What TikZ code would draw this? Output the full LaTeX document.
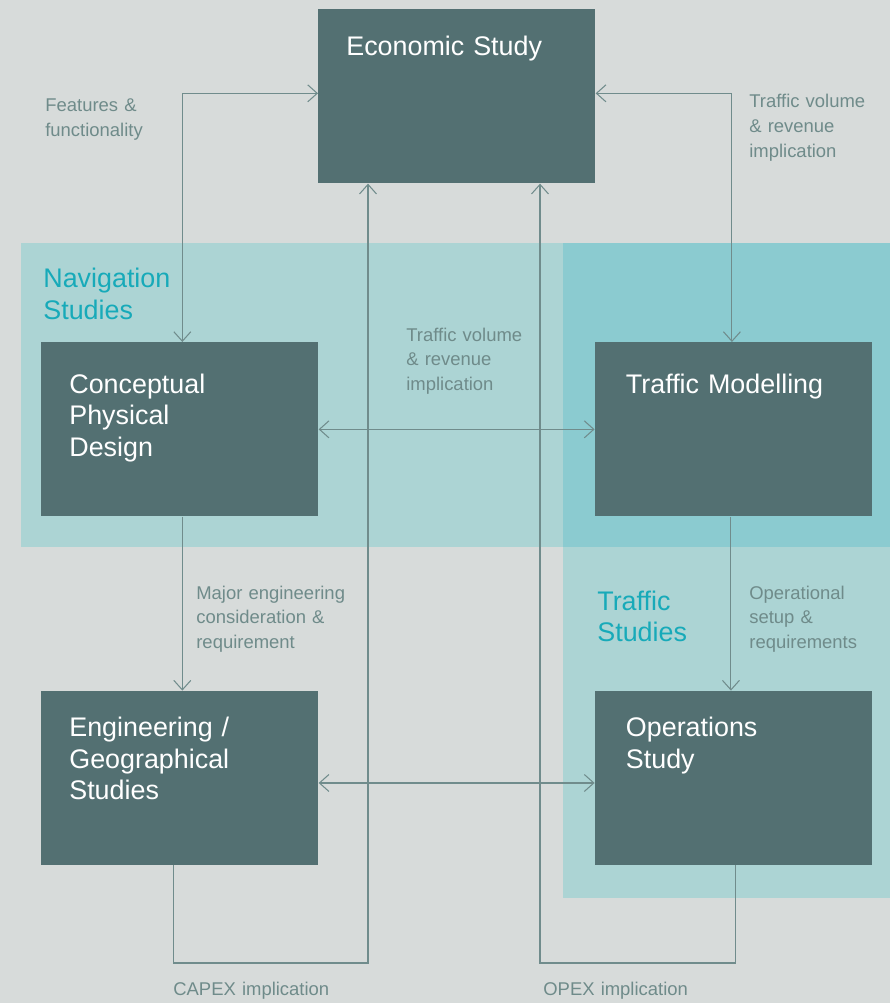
\documentclass[tikz,border=0pt]{standalone}
\usepackage{fontspec}
\setmainfont{Liberation Sans}
\usetikzlibrary{positioning,arrows.meta}

\definecolor{bggray}{HTML}{D7DBDA}
\definecolor{navteal}{HTML}{ACD4D4}
\definecolor{overteal}{HTML}{8BCBD0}
\definecolor{boxgray}{HTML}{537072}
\definecolor{notegray}{HTML}{6F8B8A}
\definecolor{headteal}{HTML}{17AAB9}
\definecolor{linegray}{HTML}{708C8C}

\begin{document}
\begin{tikzpicture}[x=0.02cm, y=-0.02cm,
>={Straight Barb[length=1.9mm,width=3.4mm]},
studybox/.style={fill=boxgray, text=white, anchor=north west, inner ysep=0pt, inner xsep=5.6mm, text width=44.2mm, align=left, text height=9.2mm, text depth=25.6mm, font=\fontsize{15.3}{17.9}\selectfont},
upper/.style={text height=10.2mm, text depth=24.6mm},
rightcol/.style={inner xsep=6.2mm, text width=43mm},
regionhead/.style={text=headteal, anchor=base west, inner sep=0pt, text width=40mm, align=left, font=\fontsize{15.3}{17.9}\selectfont},
note/.style={text=notegray, anchor=base west, inner sep=0pt, text width=36mm, align=left, font=\fontsize{10.5}{14.2}\selectfont},
link/.style={draw=linegray, line width=0.6pt}
]
\useasboundingbox (0,0) rectangle (890,1003);
%Background and study areas
\fill[bggray] (0,0) rectangle (890,1003);
\fill[navteal] (21,243) rectangle (890,547);
\fill[navteal] (563,243) rectangle (890,898);
\fill[overteal] (563,243) rectangle (890,547);
\node[regionhead] (navhead)  at (43,288)  {Navigation\\Studies};
\node[regionhead] (trafhead) at (597,610) {Traffic\\Studies};
%Nodes
\node[studybox]                 (econ)                          at (318,9)  {Economic Study};
\node[studybox, upper]          (cpd)                           at (41,342) {Conceptual\\Physical\\Design};
\node[studybox, upper, rightcol] (tm)  [right=5.52cm of cpd]               {Traffic Modelling};
\node[studybox]                 (eng)  [below=3.48cm of cpd]                {Engineering /\\Geographical\\Studies};
\node[studybox, rightcol]       (ops)  [right=5.52cm of eng]                {Operations\\Study};
%Labels
\node[note] (featnote)   at (45,112)  {Features \&\\functionality};
\node[note] (volnote)    at (749,108) {Traffic volume\\\& revenue\\implication};
\node[note] (volmidnote) at (406,341) {Traffic volume\\\& revenue\\implication};
\node[note] (engnote)    at (196,599) {Major engineering\\consideration \&\\requirement};
\node[note] (opsnote)    at (749,599) {Operational\\setup \&\\requirements};
\node[note] (capexnote)  at (173,995) {CAPEX implication};
\node[note] (opexnote)   at (543,995) {OPEX implication};
%Lines
\coordinate (capexturn) at (368,963);
\coordinate (opexturn)  at (540,963);
\draw[link, <->] ([xshift=0.5mm]cpd.north) |- ([yshift=0.6mm]econ.west);
\draw[link, <->] ([yshift=0.6mm]econ.east) -| ([xshift=-0.3mm]tm.north);
\draw[link, <->] (cpd) -- (tm);
\draw[link, ->]  ([xshift=0.5mm]cpd.south) -- ([xshift=0.5mm]eng.north);
\draw[link, ->]  ([xshift=-0.5mm]tm.south) -- ([xshift=-0.5mm]ops.north);
\draw[link, <->] ([yshift=-1mm]eng.east) -- ([yshift=-1mm]ops.west);
\draw[link, ->]  ([xshift=-1.3mm]eng.south) |- (capexturn) -- (capexturn |- econ.south);
\draw[link, ->]  ([xshift=0.5mm]ops.south) |- (opexturn) -- (opexturn |- econ.south);
\end{tikzpicture}
\end{document}
